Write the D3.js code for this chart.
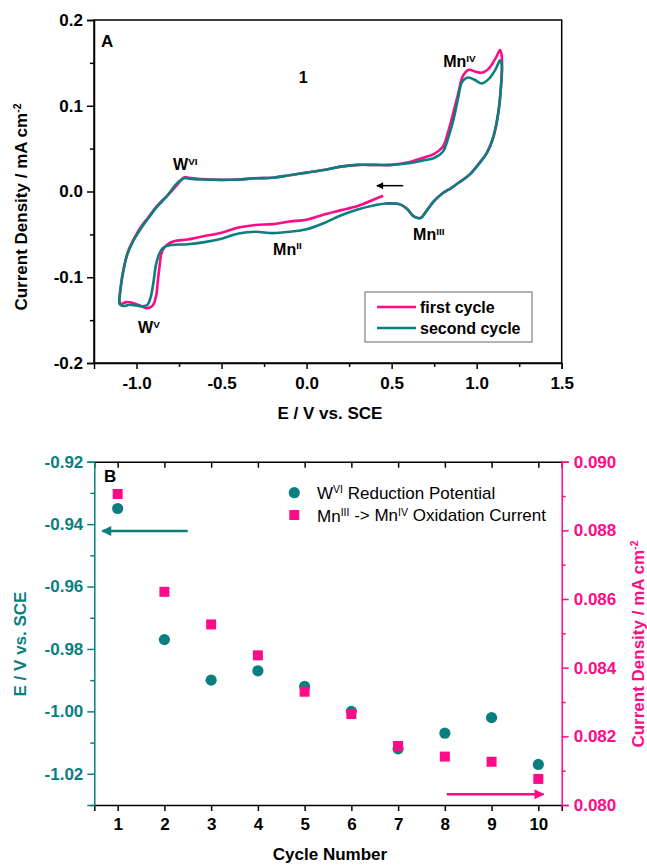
<!DOCTYPE html>
<meta charset="utf-8">
<script src="https://d3js.org/d3.v7.min.js"></script>
<style>
  body { margin: 0; background: #fff; }
  text { font-family: "Liberation Sans", Arial, sans-serif; }
</style>
<div id="chart"></div>
<script>
  // ---- data ----
  // panel A: cyclic voltammograms [E (V vs SCE), j (mA cm-2)]
  const firstCycle = [
    [0.45,-0.005],[0.40,-0.009],[0.30,-0.017],[0.20,-0.022],[0.10,-0.027],[0.00,-0.033],
    [-0.10,-0.035],[-0.20,-0.038],[-0.30,-0.039],[-0.40,-0.042],[-0.50,-0.048],[-0.60,-0.052],
    [-0.70,-0.056],[-0.78,-0.058],[-0.82,-0.062],[-0.85,-0.070],[-0.865,-0.088],[-0.875,-0.105],
    [-0.885,-0.122],[-0.905,-0.133],[-0.94,-0.136],[-0.98,-0.133],[-1.02,-0.130],[-1.06,-0.129],
    [-1.09,-0.131],[-1.10,-0.128],[-1.095,-0.116],[-1.085,-0.100],[-1.07,-0.085],[-1.05,-0.070],
    [-1.02,-0.057],[-0.98,-0.043],[-0.93,-0.030],[-0.88,-0.017],[-0.82,-0.005],[-0.76,0.008],
    [-0.72,0.0165],[-0.69,0.016],[-0.62,0.0145],[-0.50,0.0135],[-0.40,0.014],[-0.30,0.0155],
    [-0.20,0.016],[-0.10,0.019],[0.00,0.022],[0.10,0.025],[0.20,0.029],[0.30,0.031],[0.40,0.031],
    [0.50,0.031],[0.60,0.034],[0.68,0.039],[0.75,0.044],[0.80,0.052],[0.83,0.068],[0.86,0.090],
    [0.89,0.113],[0.92,0.135],[0.955,0.142],[0.99,0.140],[1.03,0.1385],[1.07,0.143],[1.11,0.155],
    [1.138,0.165],[1.148,0.157],[1.142,0.12],[1.128,0.093],[1.10,0.065],[1.06,0.045],[1.02,0.034],
    [0.96,0.020],[0.90,0.011],[0.85,0.004],[0.80,-0.002],[0.75,-0.011],[0.70,-0.024],[0.67,-0.031],
    [0.63,-0.029],[0.59,-0.020],[0.55,-0.015],[0.47,-0.014]
  ];
  const secondCycle = [
    [0.47,-0.014],[0.40,-0.016],[0.30,-0.021],[0.20,-0.028],[0.10,-0.037],[0.00,-0.044],
    [-0.10,-0.047],[-0.20,-0.0485],[-0.30,-0.047],[-0.40,-0.049],[-0.50,-0.055],[-0.60,-0.059],
    [-0.70,-0.0615],[-0.80,-0.0625],[-0.84,-0.065],[-0.865,-0.072],[-0.885,-0.085],[-0.90,-0.105],
    [-0.915,-0.122],[-0.935,-0.132],[-0.96,-0.134],[-1.00,-0.133],[-1.04,-0.132],[-1.08,-0.1335],
    [-1.10,-0.131],[-1.10,-0.124],[-1.092,-0.110],[-1.075,-0.090],[-1.055,-0.074],[-1.02,-0.058],
    [-0.98,-0.045],[-0.93,-0.031],[-0.88,-0.018],[-0.82,-0.005],[-0.76,0.010],[-0.72,0.0155],
    [-0.69,0.015],[-0.62,0.014],[-0.50,0.0135],[-0.40,0.014],[-0.30,0.0155],[-0.20,0.016],
    [-0.10,0.019],[0.00,0.022],[0.10,0.025],[0.20,0.029],[0.30,0.031],[0.40,0.031],[0.50,0.031],
    [0.60,0.033],[0.68,0.036],[0.75,0.039],[0.80,0.046],[0.835,0.064],[0.865,0.085],[0.89,0.108],
    [0.915,0.128],[0.95,0.133],[0.99,0.130],[1.03,0.126],[1.07,0.131],[1.11,0.142],[1.138,0.153],
    [1.148,0.147],[1.142,0.12],[1.128,0.093],[1.10,0.065],[1.06,0.045],[1.02,0.034],[0.96,0.020],
    [0.90,0.011],[0.85,0.004],[0.80,-0.002],[0.75,-0.011],[0.70,-0.024],[0.67,-0.031],[0.63,-0.029],
    [0.59,-0.020],[0.55,-0.015],[0.47,-0.014],[0.44,-0.015]
  ];
  const cvSeries = ["first cycle", "second cycle"];

  // panel B
  const cycles = [1, 2, 3, 4, 5, 6, 7, 8, 9, 10];
  const wPotential = [-0.935, -0.977, -0.990, -0.987, -0.992, -1.000, -1.012, -1.007, -1.002, -1.017];
  const mnCurrent = [0.08906, 0.08621, 0.08526, 0.08436, 0.08330, 0.08265, 0.08172, 0.08141, 0.08126, 0.08076];

  const xTicksA = [-1.0, -0.5, 0.0, 0.5, 1.0, 1.5];
  const yTicksA = [-0.2, -0.1, 0.0, 0.1, 0.2];
  const yTicksL = [-1.02, -1.00, -0.98, -0.96, -0.94, -0.92];
  const yTicksR = [0.080, 0.082, 0.084, 0.086, 0.088, 0.090];

  const pink = "#ff0a87", teal = "#0b7f7f";

  const svg = d3.select("#chart").append("svg")
    .attr("width", 647).attr("height", 865);

  const defs = svg.append("defs");
  function marker(id, color, w, h) {
    defs.append("marker").attr("id", id)
      .attr("viewBox", "0 0 10 10").attr("refX", 9).attr("refY", 5)
      .attr("markerUnits", "userSpaceOnUse")
      .attr("markerWidth", w).attr("markerHeight", h)
      .attr("orient", "auto")
      .append("path").attr("d", "M0,0L10,5L0,10Z").attr("fill", color);
  }
  marker("arrBlack", "#000", 9, 7);
  marker("arrTeal", teal, 14, 10);
  marker("arrPink", pink, 14, 10);

  function styleAxis(g, color, width) {
    g.select(".domain").attr("stroke", color).attr("stroke-width", width || 1.5);
    g.selectAll(".tick line").attr("stroke", color).attr("stroke-width", 1.5);
    g.selectAll(".tick text").attr("fill", color)
      .style("font-family", "Liberation Sans, Arial, sans-serif")
      .style("font-size", "17px").style("font-weight", "bold");
  }
  function minorTicks(major, step) {
    const out = [];
    for (let i = 0; i < major.length - 1; i++) out.push(+(major[i] + step).toFixed(6));
    return out;
  }

  // ================= panel A =================
  const xA = d3.scaleLinear([-1.25, 1.5], [94, 561.7]);
  const yA = d3.scaleLinear([-0.2, 0.2], [363, 20]);

  svg.append("rect").attr("x", 94).attr("y", 20)
    .attr("width", 561.7 - 94).attr("height", 343)
    .attr("fill", "none").attr("stroke", "#000").attr("stroke-width", 1.5);

  const line = d3.line().x(d => xA(d[0])).y(d => yA(d[1])).curve(d3.curveCatmullRom.alpha(0.5));
  svg.append("path").datum(firstCycle).attr("d", line)
    .attr("fill", "none").attr("stroke", pink).attr("stroke-width", 2.6);
  svg.append("path").datum(secondCycle).attr("d", line)
    .attr("fill", "none").attr("stroke", teal).attr("stroke-width", 2.6);

  let g = svg.append("g").attr("transform", "translate(0,363)")
    .call(d3.axisBottom(xA).tickValues(xTicksA).tickSize(6).tickPadding(8).tickFormat(d => d.toFixed(1)));
  styleAxis(g, "#000");
  g = svg.append("g").attr("transform", "translate(0,363)")
    .call(d3.axisBottom(xA).tickValues(minorTicks(xTicksA, 0.25)).tickSize(4).tickFormat(""));
  g.select(".domain").remove();
  g.selectAll(".tick line").attr("stroke-width", 1.5);

  g = svg.append("g").attr("transform", "translate(94,0)")
    .call(d3.axisLeft(yA).tickValues(yTicksA).tickSize(7).tickPadding(4).tickFormat(d => d.toFixed(1)));
  styleAxis(g, "#000");
  g = svg.append("g").attr("transform", "translate(94,0)")
    .call(d3.axisLeft(yA).tickValues(minorTicks(yTicksA, 0.05)).tickSize(4).tickFormat(""));
  g.select(".domain").remove();
  g.selectAll(".tick line").attr("stroke-width", 1.5);

  function label(x, y, main, sup, opts) {
    opts = opts || {};
    const t = svg.append("text").attr("x", x).attr("y", y)
      .attr("text-anchor", opts.anchor || "start")
      .attr("fill", opts.color || "#000")
      .style("font-size", (opts.size || 16) + "px")
      .style("font-weight", opts.weight || "bold");
    if (opts.rotate) t.attr("transform", `rotate(-90,${x},${y})`);
    t.append("tspan").text(main);
    if (sup) {
      t.append("tspan").attr("dy", "-0.55em").style("font-size", "0.62em").text(sup);
      if (opts.after) t.append("tspan").attr("dy", "0.34em").text(opts.after);
    }
    return t;
  }

  label(xA(-1.209), yA(0.169), "A", null, {size: 17});
  label(xA(-0.02), yA(0.126), "1", null, {size: 16, anchor: "middle"});
  label(xA(-0.785), yA(0.025), "W", "VI");
  label(xA(-0.991), yA(-0.165), "W", "V");
  label(xA(-0.197), yA(-0.074), "Mn", "II");
  label(xA(0.626), yA(-0.0566), "Mn", "III");
  label(xA(0.803), yA(0.145), "Mn", "IV");

  svg.append("line")
    .attr("x1", xA(0.568)).attr("x2", xA(0.413))
    .attr("y1", yA(0.0068)).attr("y2", yA(0.0068))
    .attr("stroke", "#000").attr("stroke-width", 1.5).attr("marker-end", "url(#arrBlack)");

  // legend A
  const legA = svg.append("g");
  legA.append("rect").attr("x", 365).attr("y", 292).attr("width", 167).attr("height", 50)
    .attr("fill", "#fff").attr("stroke", "#666").attr("stroke-width", 1);
  cvSeries.forEach((s, i) => {
    const yy = 307 + i * 21;
    legA.append("line").attr("x1", 377).attr("x2", 416).attr("y1", yy).attr("y2", yy)
      .attr("stroke", i === 0 ? pink : teal).attr("stroke-width", 2.6);
    legA.append("text").attr("x", 420).attr("y", yy + 5.5)
      .style("font-size", "16px").style("font-weight", "bold").text(s);
  });

  label(330, 419, "E / V vs. SCE", null, {size: 17, anchor: "middle"});
  label(27, 207, "Current Density / mA cm", "-2", {size: 17, anchor: "middle", rotate: true});

  // ================= panel B =================
  const xB = d3.scaleLinear([0.5, 10.5], [94.3, 561.7]);
  const yL = d3.scaleLinear([-1.03, -0.92], [805, 461.7]);
  const yR = d3.scaleLinear([0.080, 0.090], [805, 461.7]);

  // top frame line with inward ticks
  g = svg.append("g").attr("transform", "translate(0,461.7)")
    .call(d3.axisTop(xB).tickValues(cycles).tickSize(-6).tickFormat(""));
  styleAxis(g, "#000");
  g = svg.append("g").attr("transform", "translate(0,805)")
    .call(d3.axisBottom(xB).tickValues(cycles).tickSize(6).tickPadding(7).tickFormat(d3.format("d")));
  styleAxis(g, "#000");

  g = svg.append("g").attr("transform", "translate(94.3,0)")
    .call(d3.axisLeft(yL).tickValues(yTicksL).tickSize(7).tickPadding(4).tickFormat(d => d.toFixed(2)));
  styleAxis(g, teal);
  g = svg.append("g").attr("transform", "translate(94.3,0)")
    .call(d3.axisLeft(yL).tickValues(minorTicks(yTicksL, 0.01).concat([-1.03])).tickSize(4).tickFormat(""));
  g.select(".domain").remove();
  g.selectAll(".tick line").attr("stroke", teal).attr("stroke-width", 1.5);

  g = svg.append("g").attr("transform", "translate(561.7,0)")
    .call(d3.axisRight(yR).tickValues(yTicksR).tickSize(7).tickPadding(5).tickFormat(d => d.toFixed(3)));
  styleAxis(g, pink);
  g = svg.append("g").attr("transform", "translate(561.7,0)")
    .call(d3.axisRight(yR).tickValues(minorTicks(yTicksR, 0.001)).tickSize(4).tickFormat(""));
  g.select(".domain").remove();
  g.selectAll(".tick line").attr("stroke", pink).attr("stroke-width", 1.5);

  svg.append("g").selectAll("circle").data(cycles).join("circle")
    .attr("cx", d => xB(d)).attr("cy", (d, i) => yL(wPotential[i]))
    .attr("r", 5.6).attr("fill", teal);
  svg.append("g").selectAll("rect").data(cycles).join("rect")
    .attr("x", d => xB(d) - 5).attr("y", (d, i) => yR(mnCurrent[i]) - 5)
    .attr("width", 10).attr("height", 10).attr("fill", pink);

  label(xB(0.71), yL(-0.9266), "B", null, {size: 17});

  // legend B
  svg.append("circle").attr("cx", 294.3).attr("cy", 492.7).attr("r", 5.6).attr("fill", teal);
  svg.append("rect").attr("x", 289.3).attr("y", 510).attr("width", 10).attr("height", 10).attr("fill", pink);
  label(317, 499, "W", "VI", {size: 17, weight: "normal", after: " Reduction Potential"});
  const t2 = svg.append("text").attr("x", 317).attr("y", 521.5)
    .style("font-size", "17px").style("font-weight", "normal");
  t2.append("tspan").text("Mn");
  t2.append("tspan").attr("dy", "-0.55em").style("font-size", "0.62em").text("III");
  t2.append("tspan").attr("dy", "0.34em").text(" -> Mn");
  t2.append("tspan").attr("dy", "-0.55em").style("font-size", "0.62em").text("IV");
  t2.append("tspan").attr("dy", "0.34em").text(" Oxidation Current");

  // direction arrows
  svg.append("line")
    .attr("x1", xB(2.5)).attr("x2", xB(0.67))
    .attr("y1", yL(-0.9422)).attr("y2", yL(-0.9422))
    .attr("stroke", teal).attr("stroke-width", 2.5).attr("marker-end", "url(#arrTeal)");
  svg.append("line")
    .attr("x1", xB(8.04)).attr("x2", xB(10.11))
    .attr("y1", yR(0.08031)).attr("y2", yR(0.08031))
    .attr("stroke", pink).attr("stroke-width", 2.5).attr("marker-end", "url(#arrPink)");

  label(26, 644, "E / V vs. SCE", null, {size: 17, anchor: "middle", rotate: true, color: teal});
  label(644, 644, "Current Density / mA cm", "-2", {size: 17, anchor: "middle", rotate: true, color: pink});
  label(330, 860, "Cycle Number", null, {size: 17, anchor: "middle"});
</script>
